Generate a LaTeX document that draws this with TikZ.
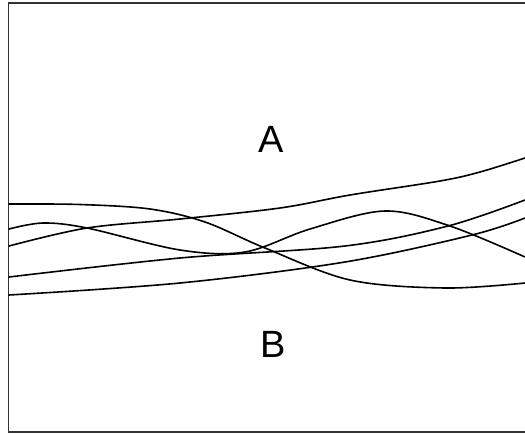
\documentclass[tikz,border=0pt]{standalone}
\usepackage{fontspec}
\setmainfont{Liberation Sans}
\begin{document}
\begin{tikzpicture}[x=1pt,y=-1pt,
  frame/.style={line width=1.8pt,draw=black!80},
  band/.style={line width=1.6pt,black,line cap=round},
  region/.style={font=\fontsize{38}{38}\selectfont,inner sep=0pt}]
\useasboundingbox (0,0) rectangle (525,434);
\begin{scope}
\clip (0,0) rectangle (525,434);
% open frame (left, top and bottom sides)
\draw[frame] (525,3) -- (8.5,3) -- (8.5,432) -- (525,432);
% boundary curves between the two regions
\draw[band] plot[smooth,tension=0.55] coordinates
  {(9,204) (80,204.5) (150,209) (205,222) (265,248) (350,280) (445,288) (525,283)};
\draw[band] plot[smooth,tension=0.55] coordinates
  {(9,229) (43,223) (87,228) (180,250) (245,252) (310,229) (385,211) (450,226) (525,257)};
\draw[band] plot[smooth,tension=0.55] coordinates
  {(9,246) (87,228) (180,219) (280,208) (350,195) (440,181) (480,172) (525,158)};
\draw[band] plot[smooth,tension=0.55] coordinates
  {(9,277) (180,258) (345,246) (448,226) (525,200)};
\draw[band] plot[smooth,tension=0.55] coordinates
  {(9,295) (180,283) (345,262) (472,235) (525,218)};
\end{scope}
\node[region] (A) at (271,139) {A};
\node[region] (B) at (273,344) {B};
\end{tikzpicture}
\end{document}
